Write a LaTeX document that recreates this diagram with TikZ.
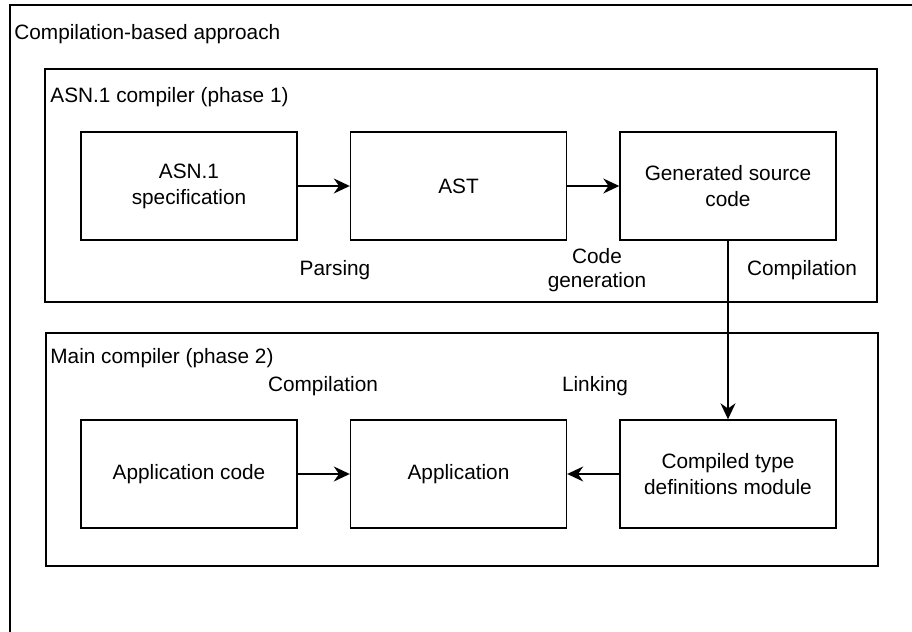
\documentclass[tikz,border=0pt]{standalone}
\usepackage{fontspec}
\setmainfont{Liberation Sans}
\usetikzlibrary{positioning,arrows.meta}

\begin{document}
\begin{tikzpicture}[
  x=0.5pt, y=-0.5pt,
  block/.style={rectangle, draw, line width=0.7pt, minimum width=108pt, minimum height=54pt, align=center, font=\fontsize{10.4}{13}\selectfont},
  group/.style={draw, line width=0.7pt},
  tag/.style={anchor=west, inner sep=0pt},
  note/.style={align=center, inner sep=0pt},
  >={Stealth[length=8pt,width=7.5pt]},
  node distance=134.75pt,
  font=\fontsize{10.4}{12}\selectfont
]
\useasboundingbox (0,0) rectangle (912,632);

% outer frame and the two phases
\draw[group] (10,700) -- (10,5) -- (1000,5);
\node[tag] (outer) at (14,34) {Compilation-based approach};
\draw[group] (45,69) rectangle (877,302);
\node[tag] (phase1) at (50,97) {ASN.1 compiler (phase 1)};
\draw[group] (46,333) rectangle (878,566);
\node[tag] (phase2) at (50,358) {Main compiler (phase 2)};

% phase 1
\node[block] (spec) at (189,186) {ASN.1\\specification};
\node[block, right of=spec] (ast) {AST};
\node[block, right of=ast] (gen) {Generated source\\code};

% phase 2
\node[block, below of=spec, node distance=144pt] (appcode) {Application code};
\node[block, right of=appcode] (app) {Application};
\node[block, right of=app] (cmod) {Compiled type\\definitions module};

\node[note] (parsing) at (335,270) {Parsing};
\node[note] (codegen) at (597,270) {Code\\generation};
\node[note] (comp1) at (802,270) {Compilation};
\node[note] (comp2) at (323,386) {Compilation};
\node[note] (linking) at (595,386) {Linking};

\draw[->, line width=0.7pt] (spec) -- (ast);
\draw[->, line width=0.7pt] (ast) -- (gen);
\draw[->, line width=0.7pt] (gen) -- (cmod);
\draw[->, line width=0.7pt] (appcode) -- (app);
\draw[->, line width=0.7pt] (cmod) -- (app);
\end{tikzpicture}
\end{document}
